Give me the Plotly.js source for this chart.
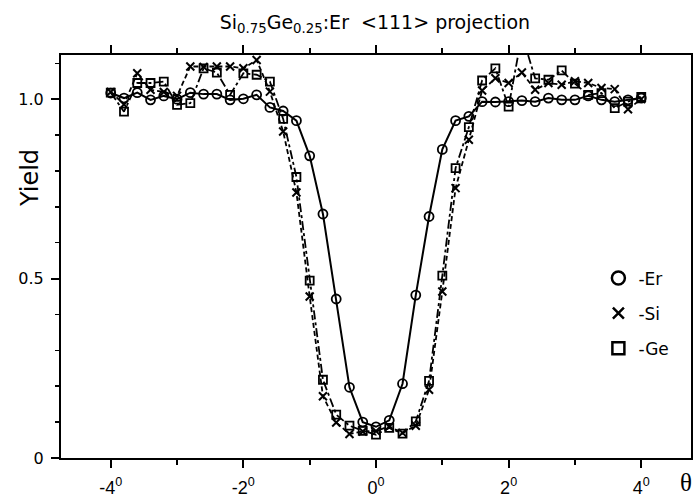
<!DOCTYPE html>
<html><head><meta charset="utf-8">
<script src="https://cdn.plot.ly/plotly-3.0.1.min.js"></script>
<style>body{margin:0;background:#fff}#chart{width:693px;height:497px}</style>
</head><body><div id="chart"></div>
<script>
// Tilt angle (degrees)
const angle = [-4.0,-3.8,-3.6,-3.4,-3.2,-3.0,-2.8,-2.6,-2.4,-2.2,-2.0,-1.8,-1.6,-1.4,-1.2,-1.0,-0.8,-0.6,-0.4,-0.2,
  0.0,0.2,0.4,0.6,0.8,1.0,1.2,1.4,1.6,1.8,2.0,2.2,2.4,2.6,2.8,3.0,3.2,3.4,3.6,3.8,4.0];
// Normalized yields
const yieldEr = [1.017,1.003,1.018,0.998,1.009,1.000,1.018,1.014,1.014,0.998,1.001,1.012,0.977,0.967,0.940,0.842,0.680,0.443,0.197,0.100,
  0.087,0.105,0.207,0.454,0.673,0.860,0.940,0.952,0.993,0.992,0.993,0.996,0.993,1.003,0.998,0.998,1.009,0.998,0.993,0.998,1.003];
const yieldSi = [1.020,0.985,1.072,1.026,1.020,1.009,1.091,1.090,1.091,1.091,1.086,1.109,1.021,0.910,0.740,0.450,0.172,0.099,0.067,0.074,
  0.075,0.088,0.070,0.090,0.190,0.464,0.752,0.887,1.024,1.058,1.045,1.074,1.026,1.045,1.040,1.050,1.045,1.031,1.028,0.972,1.000];
const yieldGe = [1.018,0.965,1.045,1.045,1.049,0.984,0.989,1.086,1.074,1.012,1.072,1.068,1.049,0.945,0.783,0.494,0.218,0.121,0.090,0.076,
  0.065,0.084,0.068,0.102,0.215,0.508,0.808,0.922,1.052,1.086,0.979,1.180,1.058,1.054,1.080,1.043,1.012,1.017,0.975,0.993,1.006];

const xTickVals = [-4,-2,0,2,4];
const xTickText = ['-4<sup>0</sup>','-2<sup>0</sup>','0<sup>0</sup>','2<sup>0</sup>','4<sup>0</sup>'];
const xMinorVals = [-3,-1,1,3];
const yTickVals = [0,0.5,1.0];
const yTickText = ['0','0.5','1.0'];
const yMinorVals = [0.1,0.2,0.3,0.4,0.6,0.7,0.8,0.9,1.1];
const legendNames = ['-Er','-Si','-Ge'];

const black = '#000';
const traces = [
  {x: angle, y: yieldSi, mode: 'lines+markers', showlegend: false,
   line: {color: black, width: 1.8, dash: '5px,3px'},
   marker: {symbol: 'x-thin-open', size: 8, line: {color: black, width: 2}}},
  {x: angle, y: yieldGe, mode: 'lines+markers', showlegend: false,
   line: {color: black, width: 1.8, dash: 'dashdot'},
   marker: {symbol: 'square-open', size: 8, color: black, line: {color: black, width: 1.8}}},
  {x: angle, y: yieldEr, mode: 'lines+markers', showlegend: false,
   line: {color: black, width: 2},
   marker: {symbol: 'circle-open', size: 9, color: black, line: {color: black, width: 1.8}}},
  {x: [null], y: [null], mode: 'markers', name: legendNames[0], legendgroup: 'a',
   marker: {symbol: 'circle-open', size: 13, color: black, line: {color: black, width: 2.5}}},
  {x: [null], y: [null], mode: 'markers', name: legendNames[1], legendgroup: 'b',
   marker: {symbol: 'x-thin-open', size: 11, color: black, line: {color: black, width: 2.5}}},
  {x: [null], y: [null], mode: 'markers', name: legendNames[2], legendgroup: 'c',
   marker: {symbol: 'square-open', size: 12, color: black, line: {color: black, width: 2.5}}}
];

const layout = {
  width: 693, height: 497,
  margin: {l: 61, r: 2, t: 55, b: 39},
  paper_bgcolor: '#fff', plot_bgcolor: '#fff',
  font: {family: 'DejaVu Sans', color: black},
  title: {text: 'Si<sub>0.75</sub>Ge<sub>0.25</sub>:Er\u00a0\u00a0&lt;111&gt; projection',
    font: {family: 'DejaVu Sans', size: 19, color: black},
    xref: 'container', x: 0.541, xanchor: 'center', yref: 'container', y: 0.956, yanchor: 'middle'},
  showlegend: true,
  legend: {x: 0.853, y: 0.49, xanchor: 'left', yanchor: 'top', bgcolor: 'rgba(0,0,0,0)',
    font: {family: 'DejaVu Sans', size: 17, color: black}, tracegroupgap: 10},
  xaxis: {range: [-4.75, 4.75], tickvals: xTickVals, ticktext: xTickText,
    ticks: 'outside', ticklen: 8, tickwidth: 2, tickcolor: black,
    showline: true, linewidth: 2, linecolor: black, mirror: 'ticks',
    showgrid: false, zeroline: false, ticklabelstandoff: 4,
    minor: {tickvals: xMinorVals, ticks: 'outside', ticklen: 5, tickwidth: 2, tickcolor: black, showgrid: false},
    tickfont: {family: 'Liberation Sans', size: 18, color: black}},
  yaxis: {range: [0, 1.123], tickvals: yTickVals, ticktext: yTickText,
    ticks: 'outside', ticklen: 8, tickwidth: 2, tickcolor: black,
    showline: true, linewidth: 2, linecolor: black, mirror: true,
    showgrid: false, zeroline: false, ticklabelstandoff: 4,
    minor: {tickvals: yMinorVals, ticks: 'outside', ticklen: 4, tickwidth: 1.5, tickcolor: black, showgrid: false},
    tickfont: {family: 'DejaVu Sans', size: 16, color: black}},
  annotations: [
    {text: 'Yield', xref: 'paper', yref: 'paper', x: -0.049, y: 0.695, textangle: -90,
     showarrow: false, xanchor: 'center', yanchor: 'middle',
     font: {family: 'DejaVu Sans', size: 24, color: black}},
    {text: '\u03b8', xref: 'paper', yref: 'paper', x: 0.992, y: -0.062,
     showarrow: false, xanchor: 'center', yanchor: 'middle',
     font: {family: 'Liberation Serif', size: 25, color: black}}
  ]
};

Plotly.newPlot('chart', traces, layout, {displayModeBar: false, staticPlot: true});
</script>
</body></html>
